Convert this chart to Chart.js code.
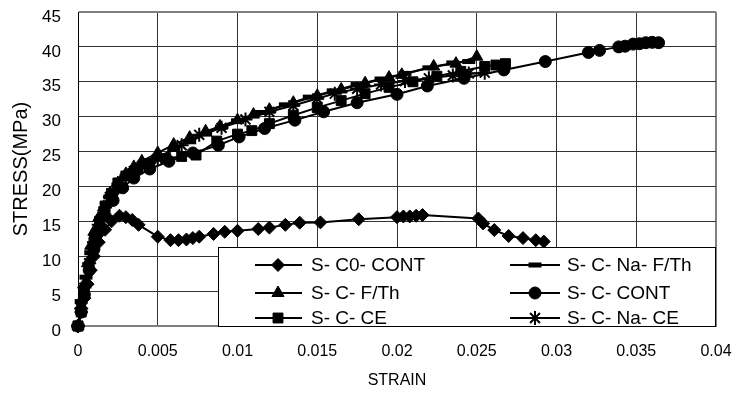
<!DOCTYPE html>
<html>
<head>
<meta charset="utf-8">
<script src="https://cdn.jsdelivr.net/npm/chart.js@4.4.1/dist/chart.umd.min.js"></script>
<style>
  html,body{margin:0;padding:0;background:#fff;}
  #wrap{width:737px;height:400px;position:relative;}
</style>
</head>
<body>
<div id="wrap"><canvas id="c" width="737" height="400"></canvas></div>
<script>
// ---- data ----
const seriesNames = ["S- C0- CONT","S- C- Na- F/Th","S- C- F/Th","S- C- CONT","S- C- CE","S- C- Na- CE"];

const c0ContStrain = [0,0.0002,0.0004,0.0006,0.0008,0.001,0.0013,0.0017,0.0021,0.0026,0.003,0.0034,0.0038,0.005,0.0058,0.0063,0.0068,0.0072,0.0076,0.0085,0.0092,0.01,0.0113,0.012,0.013,0.0139,0.0152,0.0176,0.02,0.0204,0.0208,0.0212,0.0216,0.0251,0.0254,0.0261,0.027,0.0279,0.0287,0.0292];
const c0ContStress = [0,2,4,6,8,10,12,13.8,15,15.8,15.6,15.2,14.5,12.8,12.3,12.3,12.4,12.6,12.8,13.2,13.5,13.65,13.9,14.1,14.5,14.8,14.85,15.3,15.6,15.7,15.7,15.8,15.9,15.4,14.7,13.75,12.9,12.6,12.3,12.1];

const naFThStrain = [0,0.0002,0.0005,0.0008,0.0011,0.0015,0.002,0.0025,0.003,0.0035,0.004,0.0045,0.005,0.006,0.007,0.008,0.009,0.01,0.0115,0.013,0.0145,0.016,0.0175,0.019,0.0205,0.022,0.0235,0.0245];
const naFThStress = [0,3.5,7,10.5,13,15.5,18.5,20.2,21.4,22.3,23,23.6,24.2,25.3,26.4,27.5,28.5,29.4,30.6,31.7,32.8,33.7,34.6,35.4,36.2,37,37.7,37.9];

const fThStrain = [0,0.0002,0.0004,0.0006,0.0008,0.001,0.0013,0.0016,0.002,0.0025,0.003,0.0035,0.004,0.005,0.006,0.007,0.008,0.0089,0.01,0.011,0.012,0.0135,0.015,0.0165,0.018,0.0195,0.0203,0.0223,0.0237,0.025];
const fThStress = [0,3,6,9,11.5,13.5,15.5,17,19,20.5,21.8,22.8,23.6,24.8,26,27,27.9,28.6,29.5,30.3,31,32,33,33.9,34.8,35.6,36,37.2,37.6,38.6];

const contStrain = [0,0.0002,0.0004,0.0007,0.001,0.0013,0.0017,0.0022,0.0028,0.0035,0.0045,0.0057,0.0072,0.0088,0.0101,0.0117,0.0136,0.0154,0.0175,0.02,0.0219,0.0242,0.0267,0.0293,0.032,0.0327,0.0339,0.0343,0.0348,0.0352,0.0356,0.036,0.0364];
const contStress = [0,2,4.5,8,11,13.5,15.8,18,19.8,21.2,22.5,23.6,24.8,25.9,27.1,28.3,29.5,30.7,32,33.2,34.4,35.5,36.7,37.9,39.2,39.5,40,40.1,40.4,40.45,40.6,40.65,40.6];

const ceStrain = [0,0.0002,0.0004,0.0007,0.001,0.00135,0.0017,0.0021,0.0025,0.003,0.00375,0.0045,0.0055,0.0065,0.0074,0.0087,0.01,0.0109,0.012,0.0135,0.015,0.0165,0.018,0.0195,0.021,0.0225,0.024,0.0255,0.0262,0.0268];
const ceStress = [0,2,5,8.5,12,15,17.2,19,20.5,21.5,22.5,23.3,24,24.3,24.5,26.5,27.5,28,29,30.2,31.3,32.3,33.3,34.2,35,35.8,36.5,37.2,37.4,37.6];

const naCeStrain = [0,0.0002,0.0004,0.0007,0.001,0.0013,0.0017,0.002,0.0025,0.003,0.0035,0.004,0.005,0.0065,0.0076,0.009,0.0105,0.012,0.0135,0.015,0.0161,0.0175,0.019,0.0205,0.022,0.0235,0.0245,0.0255];
const naCeStress = [0,2.5,5.5,9,12,14.5,17,18.5,20,21.3,22.2,22.9,24,25.9,27.4,28.4,29.6,30.7,31.6,32.6,33.3,34,34.6,35.1,35.5,35.9,36.2,36.3];

const xTickValues = [0,0.005,0.01,0.015,0.02,0.025,0.03,0.035,0.04];
const yTickValues = [0,5,10,15,20,25,30,35,40,45];
const xTitle = "STRAIN";
const yTitle = "STRESS(MPa)";

// ---- build chart ----
const FONT = "'Liberation Sans', Arial, sans-serif";
function pts(xs, ys){ return xs.map((x,i)=>({x:x, y:ys[i]})); }

const markerStyles = [
  {pointStyle:'rectRot', radius:6.5, borderWidth:1},
  {pointStyle:'line', radius:6.5, borderWidth:5},
  {pointStyle:'triangle', radius:7, borderWidth:1},
  {pointStyle:'circle', radius:6, borderWidth:1},
  {pointStyle:'rect', radius:7, borderWidth:1},
  {pointStyle:'star', radius:7, borderWidth:2}
];
const allX = [c0ContStrain, naFThStrain, fThStrain, contStrain, ceStrain, naCeStrain];
const allY = [c0ContStress, naFThStress, fThStress, contStress, ceStress, naCeStress];

const datasets = seriesNames.map((name,i)=>({
  label: name,
  data: pts(allX[i], allY[i]),
  showLine: true,
  borderColor: '#000',
  backgroundColor: '#000',
  borderWidth: 2,
  pointStyle: markerStyles[i].pointStyle,
  pointRadius: markerStyles[i].radius,
  pointBorderWidth: markerStyles[i].borderWidth,
  pointBackgroundColor: '#000',
  pointBorderColor: '#000',
  tension: 0,
  clip: false
}));

const legendPlugin = {
  id: 'boxLegend',
  afterDraw(chart){
    const ctx = chart.ctx;
    const box = {l:218, t:247, r:716, b:327};
    ctx.save();
    ctx.fillStyle = '#fff';
    ctx.fillRect(box.l, box.t, box.r-box.l, box.b-box.t);
    ctx.strokeStyle = '#000';
    ctx.lineWidth = 1;
    ctx.strokeRect(box.l+0.5, box.t+0.5, box.r-box.l-1, box.b-box.t-1);
    const cols = [{l0:255,l1:302,m:278,tx:311},{l0:510,l1:560,m:535,tx:567}];
    const rows = [265,293,318];
    ctx.font = "19px " + FONT;
    ctx.textBaseline = 'middle';
    ctx.textAlign = 'left';
    seriesNames.forEach((name,i)=>{
      const c = cols[i%2], y = rows[Math.floor(i/2)];
      ctx.strokeStyle = '#000';
      ctx.lineWidth = 2;
      ctx.beginPath(); ctx.moveTo(c.l0, y); ctx.lineTo(c.l1, y); ctx.stroke();
      ctx.fillStyle = '#000';
      ctx.strokeStyle = '#000';
      ctx.lineWidth = markerStyles[i].borderWidth;
      Chart.helpers.drawPoint(ctx, {pointStyle: markerStyles[i].pointStyle, radius: markerStyles[i].radius, rotation:0, borderWidth: markerStyles[i].borderWidth}, c.m, y);
      ctx.fillStyle = '#000';
      ctx.fillText(name, c.tx, y+1);
    });
    ctx.restore();
  }
};

new Chart(document.getElementById('c'), {
  type: 'scatter',
  data: { datasets },
  options: {
    responsive: false,
    animation: false,
    devicePixelRatio: 1,
    layout: { padding: { top: 12, right: 21, left: 0, bottom: 0 } },
    plugins: { legend: { display: false }, tooltip: { enabled: false } },
    scales: {
      x: {
        type: 'linear', min: 0, max: 0.04,
        afterBuildTicks: s => { s.ticks = xTickValues.map(v=>({value:v})); },
        afterFit: s => { s.height = 74; s.paddingLeft = 0; s.paddingRight = 0; s.paddingTop = 0; s.paddingBottom = 0; },
        grid: { color: c => (c.tick && c.tick.value === 0.04) ? '#808080' : '#333', lineWidth: c => (c.tick && c.tick.value === 0.04) ? 2 : 1, drawTicks: false },
        border: { color: '#808080', width: 2 },
        ticks: { color: '#000', font: { family: FONT, size: 16 }, padding: 16, maxRotation: 0, autoSkip: false,
                 callback: v => String(Number(v.toFixed(3))) },
        title: { display: true, text: xTitle, color: '#000', font: { family: FONT, size: 16 }, padding: { top: 0, bottom: 10 } }
      },
      y: {
        type: 'linear', min: 0, max: 45,
        afterBuildTicks: s => { s.ticks = yTickValues.map(v=>({value:v})); },
        afterFit: s => { s.width = 78; s.paddingLeft = 0; s.paddingRight = 0; s.paddingTop = 0; s.paddingBottom = 0; },
        grid: { color: c => (c.tick && c.tick.value === 45) ? '#808080' : '#333', lineWidth: c => (c.tick && c.tick.value === 45) ? 2 : 1, drawTicks: false },
        border: { color: '#000', width: 1 },
        ticks: { color: '#000', font: { family: FONT, size: 17 }, padding: 17, labelOffset: 5, autoSkip: false },
        title: { display: true, text: yTitle, color: '#000', font: { family: FONT, size: 20 }, padding: { top: 9, bottom: 0 } }
      }
    }
  },
  plugins: [legendPlugin]
});
</script>
</body>
</html>
